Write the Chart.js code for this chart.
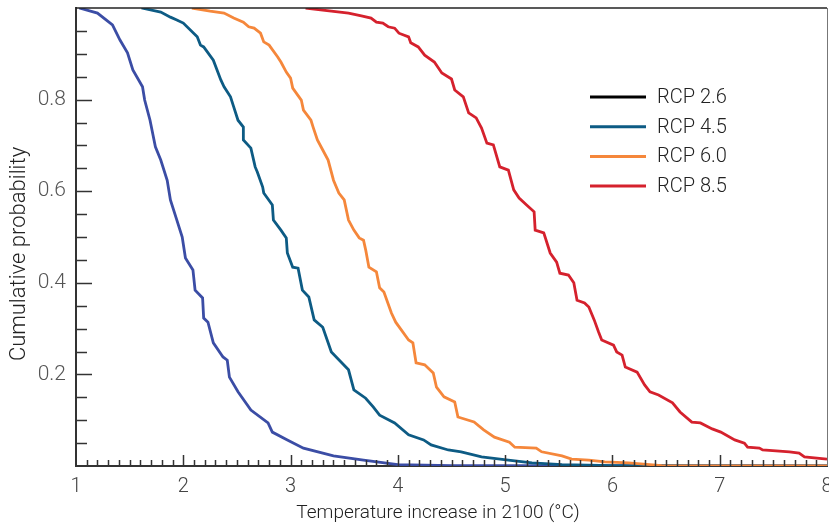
<!DOCTYPE html>
<html lang="en">
<head>
    <meta charset="UTF-8">
    <title>Cumulative probability of warming by 2100</title>
    <style>
        html, body { margin: 0; padding: 0; background: white; }
        #wrap { width: 829px; height: 527px; }
    </style>
    <script src="https://cdn.jsdelivr.net/npm/chart.js"></script>
</head>
<body>
    <div id="wrap"><canvas id="cdfChart"></canvas></div>

    <script>
        // Values: temperature (°C) and probability of exceeding it
        const seriesNames = ['RCP 2.6', 'RCP 4.5', 'RCP 6.0', 'RCP 8.5'];

        const rcp26T = [1.03, 1.20, 1.34, 1.41, 1.48, 1.53, 1.62, 1.64, 1.69, 1.74, 1.79, 1.85, 1.88, 1.94, 1.99,
            2.02, 2.09, 2.11, 2.18, 2.19, 2.23, 2.28, 2.37, 2.41, 2.43, 2.51, 2.63, 2.79, 2.83, 2.97, 3.12,
            3.40, 3.68, 4.00, 4.50, 8.00];
        const rcp26P = [1.000, 0.989, 0.963, 0.930, 0.902, 0.865, 0.828, 0.799, 0.755, 0.697, 0.668, 0.624, 0.581, 0.537, 0.500,
            0.454, 0.428, 0.384, 0.367, 0.323, 0.314, 0.269, 0.238, 0.231, 0.194, 0.162, 0.122, 0.094, 0.074, 0.057, 0.039,
            0.022, 0.013, 0.003, 0.001, 0.000];

        const rcp45T = [1.61, 1.79, 1.88, 1.94, 2.00, 2.13, 2.16, 2.19, 2.28, 2.35, 2.38, 2.44, 2.47, 2.51, 2.56, 2.56,
            2.63, 2.67, 2.69, 2.74, 2.75, 2.83, 2.84, 2.91, 2.96, 2.97, 3.02, 3.07, 3.11, 3.17, 3.22, 3.30, 3.38,
            3.54, 3.59, 3.70, 3.77, 3.83, 3.97, 4.10, 4.24, 4.31, 4.47, 4.59, 4.78, 5.03, 5.25, 5.53, 6.00, 8.00];
        const rcp45P = [1.000, 0.991, 0.980, 0.974, 0.967, 0.937, 0.919, 0.915, 0.886, 0.843, 0.828, 0.806, 0.784, 0.755, 0.740, 0.712,
            0.694, 0.653, 0.642, 0.609, 0.596, 0.570, 0.537, 0.515, 0.498, 0.465, 0.434, 0.432, 0.384, 0.369, 0.319, 0.303, 0.249,
            0.210, 0.166, 0.148, 0.129, 0.111, 0.094, 0.068, 0.057, 0.046, 0.035, 0.031, 0.020, 0.013, 0.007, 0.003, 0.001, 0.000];

        const rcp60T = [2.08, 2.25, 2.38, 2.47, 2.56, 2.61, 2.66, 2.72, 2.75, 2.80, 2.88, 2.91, 2.96, 3.00, 3.02, 3.10,
            3.12, 3.19, 3.21, 3.25, 3.30, 3.35, 3.40, 3.45, 3.50, 3.54, 3.59, 3.64, 3.68, 3.70, 3.73, 3.80, 3.83,
            3.87, 3.94, 3.98, 4.10, 4.14, 4.17, 4.25, 4.33, 4.36, 4.43, 4.53, 4.56, 4.71, 4.80, 4.90, 5.04, 5.09,
            5.29, 5.34, 5.53, 5.62, 5.78, 5.93, 6.15, 6.46, 8.00];
        const rcp60P = [1.000, 0.993, 0.989, 0.978, 0.969, 0.959, 0.956, 0.945, 0.926, 0.919, 0.893, 0.882, 0.860, 0.847, 0.825, 0.799,
            0.777, 0.755, 0.740, 0.712, 0.690, 0.668, 0.624, 0.596, 0.581, 0.537, 0.515, 0.498, 0.493, 0.472, 0.434, 0.424, 0.389,
            0.380, 0.334, 0.314, 0.275, 0.269, 0.225, 0.221, 0.203, 0.172, 0.151, 0.140, 0.107, 0.096, 0.079, 0.063, 0.052, 0.041,
            0.039, 0.031, 0.022, 0.015, 0.013, 0.009, 0.007, 0.001, 0.000];

        const rcp85T = [3.14, 3.38, 3.54, 3.66, 3.75, 3.80, 3.86, 3.91, 3.97, 4.01, 4.10, 4.12, 4.19, 4.25, 4.34, 4.41,
            4.50, 4.53, 4.61, 4.66, 4.73, 4.78, 4.83, 4.89, 4.95, 5.03, 5.08, 5.13, 5.20, 5.27, 5.28, 5.36, 5.42,
            5.48, 5.51, 5.59, 5.64, 5.67, 5.74, 5.78, 5.83, 5.87, 5.90, 6.01, 6.04, 6.09, 6.12, 6.23, 6.30, 6.35,
            6.43, 6.56, 6.63, 6.74, 6.82, 6.93, 7.01, 7.14, 7.23, 7.26, 7.37, 7.40, 7.65, 7.74, 7.79, 8.00];
        const rcp85P = [1.000, 0.993, 0.989, 0.983, 0.978, 0.969, 0.967, 0.959, 0.956, 0.945, 0.937, 0.924, 0.915, 0.897, 0.882, 0.858,
            0.845, 0.821, 0.806, 0.771, 0.760, 0.738, 0.705, 0.701, 0.653, 0.646, 0.603, 0.585, 0.570, 0.555, 0.515, 0.509, 0.465,
            0.445, 0.421, 0.417, 0.400, 0.362, 0.356, 0.347, 0.319, 0.293, 0.275, 0.264, 0.249, 0.242, 0.216, 0.205, 0.177, 0.162,
            0.155, 0.138, 0.118, 0.096, 0.094, 0.081, 0.074, 0.057, 0.050, 0.041, 0.039, 0.035, 0.031, 0.028, 0.020, 0.015];

        const xTicks = [1, 2, 3, 4, 5, 6, 7, 8];
        const yTicks = [0.2, 0.4, 0.6, 0.8];
        const xTitle = 'Temperature increase in 2100 (°C)';
        const yTitle = 'Cumulative probability';

        const lineColors = ['#3b4da5', '#0d5b84', '#f5873b', '#d5212d'];
        const legendColors = ['#000000', '#0d5b84', '#f5873b', '#d5212d'];

        const FONT = 'Roboto, "Noto Sans", sans-serif';

        function toPoints(xs, ys) {
            return xs.map((x, i) => ({ x: x, y: ys[i] }));
        }

        // minor ticks inside the plot + top/right frame
        const innerTicks = {
            id: 'innerTicks',
            afterDraw(chart) {
                const ctx = chart.ctx;
                const xs = chart.scales.x, ys = chart.scales.y;
                const area = chart.chartArea;
                ctx.save();
                ctx.strokeStyle = '#333';
                ctx.lineWidth = 1.5;
                for (let i = 11; i < 80; i++) {
                    const px = Math.round(xs.getPixelForValue(i / 10)) + 0.5;
                    const len = (i % 10 === 0) ? 11 : 6;
                    ctx.beginPath();
                    ctx.moveTo(px, area.bottom);
                    ctx.lineTo(px, area.bottom - len);
                    ctx.stroke();
                }
                for (let i = 1; i < 20; i++) {
                    const py = Math.round(ys.getPixelForValue(i / 20)) + 0.5;
                    const len = (i % 4 === 0) ? 16 : 11;
                    ctx.beginPath();
                    ctx.moveTo(area.left, py);
                    ctx.lineTo(area.left + len, py);
                    ctx.stroke();
                }
                ctx.lineWidth = 1.5;
                ctx.strokeStyle = '#222';
                ctx.beginPath();
                ctx.moveTo(area.left, area.top);
                ctx.lineTo(area.right, area.top);
                ctx.stroke();
                ctx.lineWidth = 1;
                ctx.strokeStyle = '#777';
                ctx.beginPath();
                ctx.moveTo(area.right + 0.5, area.top);
                ctx.lineTo(area.right + 0.5, area.bottom);
                ctx.stroke();
                ctx.restore();
            }
        };

        // axis titles, placed where the original has them (slightly off-centre)
        const axisTitles = {
            id: 'axisTitles',
            afterDraw(chart) {
                const ctx = chart.ctx;
                ctx.save();
                ctx.fillStyle = '#222';
                ctx.textAlign = 'center';
                ctx.textBaseline = 'middle';
                ctx.font = '300 19px ' + FONT;
                ctx.fillText(xTitle, 438, 513);
                ctx.translate(19, 254);
                ctx.rotate(-Math.PI / 2);
                ctx.font = '300 22px ' + FONT;
                ctx.fillText(yTitle, 0, 0);
                ctx.restore();
            }
        };

        // legend placed inside the plot, upper right
        const insideLegend = {
            id: 'insideLegend',
            afterDraw(chart) {
                const ctx = chart.ctx;
                ctx.save();
                ctx.font = '300 20px ' + FONT;
                ctx.textBaseline = 'middle';
                seriesNames.forEach((name, i) => {
                    const y = 97 + i * 29.7;
                    ctx.strokeStyle = legendColors[i];
                    ctx.lineWidth = 3;
                    ctx.beginPath();
                    ctx.moveTo(590, y);
                    ctx.lineTo(646, y);
                    ctx.stroke();
                    ctx.fillStyle = '#222';
                    ctx.fillText(name, 657, y + 1);
                });
                ctx.restore();
            }
        };

        const seriesData = [
            toPoints(rcp26T, rcp26P),
            toPoints(rcp45T, rcp45P),
            toPoints(rcp60T, rcp60P),
            toPoints(rcp85T, rcp85P)
        ];

        new Chart(document.getElementById('cdfChart'), {
            type: 'line',
            data: {
                datasets: seriesNames.map((name, i) => ({
                    label: name,
                    data: seriesData[i],
                    borderColor: lineColors[i],
                    borderWidth: 2.8,
                    pointRadius: 0,
                    tension: 0,
                    fill: false,
                    order: 4 - i
                }))
            },
            options: {
                responsive: true,
                maintainAspectRatio: false,
                animation: false,
                layout: { padding: { top: 8, right: 2, left: 0, bottom: 0 } },
                plugins: {
                    legend: { display: false },
                    tooltip: { enabled: false }
                },
                scales: {
                    x: {
                        type: 'linear',
                        min: 1,
                        max: 8,
                        afterBuildTicks: s => { s.ticks = xTicks.map(v => ({ value: v })); },
                        afterFit: s => { s.height = 61; s.paddingLeft = 0; s.paddingRight = 0; },
                        grid: { display: false, drawTicks: false },
                        border: { display: true, color: '#333', width: 2 },
                        ticks: {
                            color: '#444',
                            padding: 9,
                            font: { family: FONT, size: 20, weight: 300 },
                            maxRotation: 0
                        }
                    },
                    y: {
                        min: 0,
                        max: 1,
                        afterBuildTicks: s => { s.ticks = yTicks.map(v => ({ value: v })); },
                        afterFit: s => { s.width = 76; s.paddingTop = 0; s.paddingBottom = 0; },
                        grid: { display: false, drawTicks: false },
                        border: { display: true, color: '#333', width: 2 },
                        ticks: {
                            color: '#555',
                            padding: 10,
                            font: { family: FONT, size: 21, weight: 300 },
                            callback: v => v.toFixed(1)
                        }
                    }
                }
            },
            plugins: [innerTicks, axisTitles, insideLegend]
        });
    </script>
</body>
</html>
